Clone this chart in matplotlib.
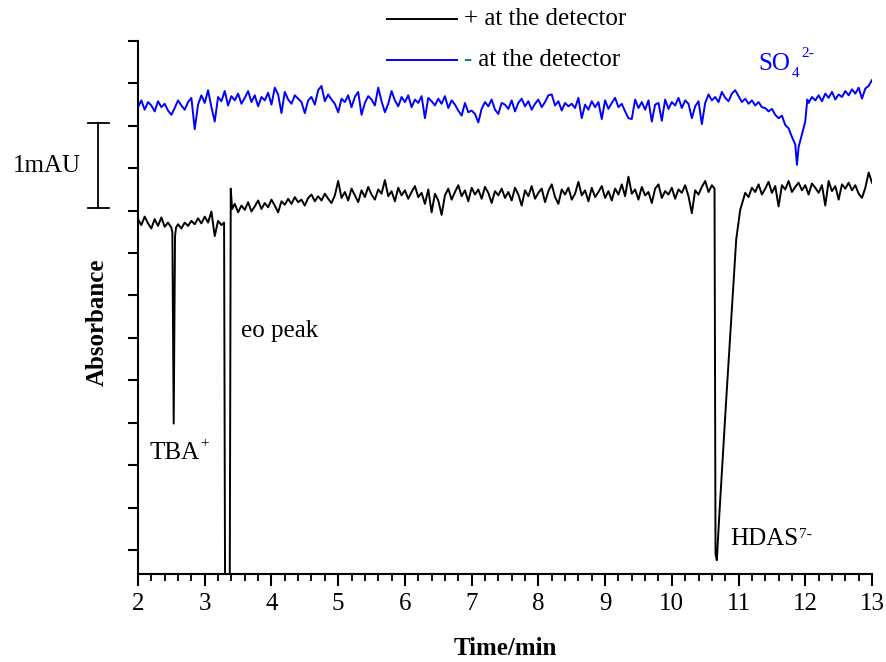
import numpy as np
import matplotlib
matplotlib.use("Agg")
import matplotlib.pyplot as plt
from matplotlib.ticker import MultipleLocator, NullFormatter
from matplotlib.offsetbox import DrawingArea, TextArea, HPacker, VPacker, AnchoredOffsetbox
from matplotlib.lines import Line2D

plt.rcParams['font.family'] = ['Liberation Serif', 'DejaVu Serif']

STEP = 0.05  # sampling step (min) of the regularly read baseline segments

# ---------------- black trace: "+ at the detector" (absorbance, mAU) ----------------
black_A_start = 2.00
black_A = [3.90, 3.83, 3.93, 3.85, 3.79, 3.90, 3.82, 3.92, 3.81, 3.86, 3.80]
black_tba_t = [2.515, 2.535, 2.555, 2.57]
black_tba_v = [3.74, 1.49, 3.70, 3.80]
black_B_start = 2.60
black_B = [3.84, 3.79, 3.86, 3.82, 3.88, 3.84, 3.91, 3.85, 3.93, 3.86, 3.99, 3.70, 3.88, 3.83]
black_eo_t = [3.29, 3.31, 3.37, 3.39, 3.41]
black_eo_v = [3.86, -2.0, -2.0, 4.26, 4.02]
black_C_start = 3.45
black_C = [4.08, 3.98, 4.06, 4.01, 4.10, 3.99, 4.05, 4.12, 4.02, 4.09,
           4.04, 4.13, 4.06, 3.98, 4.11, 4.07, 4.14, 4.08, 4.16, 4.10,
           4.13, 4.06, 4.15, 4.19, 4.11, 4.17, 4.12, 4.20, 4.14, 4.09,
           4.18, 4.35]
black_D_start = 5.05
black_D = [4.15, 4.22, 4.12, 4.26, 4.18, 4.10, 4.24, 4.16, 4.28, 4.19,
           4.13, 4.25, 4.20, 4.36, 4.17, 4.23, 4.11, 4.27, 4.18, 4.24,
           4.14, 4.22, 4.29, 4.16, 4.21, 4.08, 4.25, 3.98, 4.20, 4.12,
           3.95, 4.18, 4.26, 4.13, 4.22, 4.30, 4.17, 4.24, 4.11, 4.27,
           4.19, 4.25, 4.14, 4.28, 4.21, 4.09, 4.23, 4.18, 4.26, 4.15,
           4.22, 4.12, 4.27, 4.19, 4.06, 4.24, 4.17, 4.29, 4.14, 4.21,
           4.26, 4.10, 4.23, 4.31, 4.16, 4.08, 4.25, 4.19, 4.27, 4.13,
           4.20, 4.34, 4.18, 4.24, 4.11, 4.27, 4.16, 4.22, 4.29, 4.15,
           4.23, 4.12, 4.26, 4.19, 4.31, 4.17, 4.40, 4.20, 4.25, 4.13,
           4.28, 4.18, 4.22, 4.09, 4.26, 4.31, 4.15, 4.23, 4.19, 4.27,
           4.14, 4.25, 4.21, 4.30, 4.17, 3.97, 4.24, 4.19, 4.28, 4.35,
           4.22, 4.30]
black_hdas_t = [10.64, 10.655, 10.675, 10.71, 10.815, 10.965, 11.025, 11.10]
black_hdas_v = [4.26, -0.05, -0.12, 0.39, 1.77, 3.66, 4.01, 4.21]
black_E_start = 11.15
black_E = [4.16, 4.27, 4.22, 4.31, 4.19, 4.26, 4.34, 4.21, 4.29, 4.05,
           4.30, 4.25, 4.35, 4.22, 4.28, 4.33, 4.24, 4.30, 4.19, 4.32,
           4.27, 4.21, 4.30, 4.06, 4.35, 4.23, 4.29, 4.13, 4.31, 4.26,
           4.33, 4.24, 4.30, 4.20, 4.15, 4.27, 4.45, 4.33]

# ---------------- blue trace: "- at the detector" (absorbance, mAU) ----------------
blue_A_start = 2.00
blue_A = [5.22, 5.30, 5.19, 5.28, 5.24, 5.17, 5.29, 5.22, 5.26, 5.18,
          5.13, 5.21, 5.30, 5.24, 5.19, 5.28, 5.33, 4.96, 5.25, 5.36,
          5.27, 5.42, 5.22, 5.05, 5.34, 5.29, 5.41, 5.24, 5.35, 5.30,
          5.38, 5.26, 5.33, 5.41, 5.28, 5.36, 5.23, 5.34, 5.30, 5.39,
          5.25, 5.45, 5.37, 5.15, 5.40, 5.31, 5.26, 5.36, 5.32, 5.28,
          5.15, 5.30, 5.34, 5.25, 5.42, 5.47, 5.29, 5.37, 5.31, 5.26,
          5.16, 5.32, 5.28, 5.36, 5.22, 5.34, 5.40, 5.13, 5.27, 5.35,
          5.31, 5.24, 5.45, 5.29, 5.16, 5.26, 5.41, 5.30, 5.23, 5.34,
          5.28, 5.36, 5.22, 5.31, 5.27, 5.35, 5.09, 5.33, 5.29, 5.24,
          5.32, 5.26, 5.35, 5.21, 5.30, 5.25, 5.18, 5.12, 5.27, 5.16,
          5.18, 5.14, 5.04, 5.20, 5.28, 5.23, 5.31, 5.19, 5.14, 5.27,
          5.25, 5.20, 5.30, 5.17, 5.27, 5.32, 5.23, 5.29, 5.19, 5.26,
          5.31, 5.22, 5.28, 5.36, 5.37, 5.24, 5.29, 5.18, 5.27, 5.23,
          5.26, 5.21, 5.33, 5.09, 5.25, 5.19, 5.29, 5.22, 5.28, 5.08,
          5.30, 5.20, 5.27, 5.33, 5.22, 5.26, 5.17, 5.09, 5.08, 5.31,
          5.21, 5.28, 5.19, 5.30, 5.05, 5.25, 5.27, 5.06, 5.31, 5.20,
          5.28, 5.24, 5.33, 5.21, 5.30, 5.26, 5.09, 5.23, 5.29, 5.02,
          5.27, 5.37, 5.30, 5.34, 5.28, 5.40, 5.33, 5.29, 5.38, 5.42,
          5.35, 5.28, 5.32, 5.26, 5.30, 5.24, 5.28, 5.22]
blue_B_start = 11.40
blue_B = [5.21, 5.17, 5.20, 5.13, 5.09, 5.12, 5.01, 4.97, 4.87]
blue_so4_t = [11.85, 11.875, 11.90, 11.95, 12.00, 12.03]
blue_so4_v = [4.78, 4.54, 4.75, 4.90, 5.05, 5.31]
blue_C_start = 12.05
blue_C = [5.27, 5.34, 5.30, 5.36, 5.29, 5.38, 5.33, 5.40, 5.31, 5.37,
          5.34, 5.41, 5.36, 5.43, 5.38, 5.45, 5.32, 5.44, 5.47, 5.54]

# scale bar (mAU)
scale_bar_bottom = 4.03
scale_bar_height = 1.0


def seg(start, values):
    return start + STEP * np.arange(len(values))


t_black = np.concatenate([seg(black_A_start, black_A), black_tba_t,
                          seg(black_B_start, black_B), black_eo_t,
                          seg(black_C_start, black_C), seg(black_D_start, black_D),
                          black_hdas_t, seg(black_E_start, black_E)])
a_black = np.concatenate([black_A, black_tba_v, black_B, black_eo_v, black_C,
                          black_D, black_hdas_v, black_E])
t_blue = np.concatenate([seg(blue_A_start, blue_A), seg(blue_B_start, blue_B),
                         blue_so4_t, seg(blue_C_start, blue_C)])
a_blue = np.concatenate([blue_A, blue_B, blue_so4_v, blue_C])

W, H = 886, 662
fig = plt.figure(figsize=(W / 100, H / 100), dpi=100)
ax = fig.add_axes([138 / W, 1 - 574 / H, 734 / W, 533 / H])

ax.plot(t_black, a_black, color='black', lw=1.4)
ax.plot(t_blue, a_blue, color='#0000FF', lw=1.4)

ax.set_xlim(2, 13)
ax.set_ylim(-0.283, 6.0)
for s in ['top', 'right']:
    ax.spines[s].set_visible(False)
for s in ['left', 'bottom']:
    ax.spines[s].set_linewidth(1.5)

ax.xaxis.set_major_locator(MultipleLocator(1))
ax.xaxis.set_minor_locator(MultipleLocator(0.2))
ax.yaxis.set_major_locator(MultipleLocator(0.5))
ax.yaxis.set_major_formatter(NullFormatter())
ax.tick_params(axis='x', which='major', direction='out', length=8.5, width=1.5,
               labelsize=18, pad=5)
ax.tick_params(axis='x', which='minor', direction='out', length=5, width=1.3)
ax.tick_params(axis='y', which='major', direction='out', length=7, width=1.5)

ax.set_xlabel('Time/min', fontsize=18, fontweight='bold')
ax.xaxis.set_label_coords(0.5, -0.118)
ax.set_ylabel('Absorbance', fontsize=18, fontweight='bold')
ax.yaxis.set_label_coords(-0.04, 0.473)


# peak labels with super/subscripts
def label(x, y, main, parts, color='black'):
    t = ax.text(x, y, main, fontsize=18, ha='left', va='baseline', color=color)
    for s, dx, dy in parts:
        ax.annotate(s, xy=(1, y), xycoords=(t, 'data'), xytext=(dx, dy),
                    textcoords='offset points', ha='left', va='baseline',
                    fontsize=11, color=color)


label(2.165, 1.073, 'TBA', [('+', 0.5, 8.7)])
label(3.54, 2.51, 'eo peak', [])
label(10.875, 0.059, 'HDAS', [('7-', 0.5, 5.0)])
label(11.29, 5.66, 'SO', [('4', 1.2, -5.0), ('2-', 8.0, 9.3)], color='#0000FF')

# 1 mAU scale bar
trans = ax.get_yaxis_transform()
bx, cap = -0.0544, 0.0143
ax.plot([bx, bx], [scale_bar_bottom, scale_bar_bottom + scale_bar_height],
        color='black', lw=1.3, transform=trans, clip_on=False)
for yy in [scale_bar_bottom, scale_bar_bottom + scale_bar_height]:
    ax.plot([bx - cap, bx + cap], [yy, yy], color='black', lw=1.3,
            transform=trans, clip_on=False)
ax.text(-0.170, scale_bar_bottom + scale_bar_height / 2, '1mAU', fontsize=18,
        ha='left', va='center', transform=trans)

# legend
tp = dict(fontsize=18, family='Liberation Serif')


def sample(color):
    da = DrawingArea(50, 10, 0, 0)
    da.add_artist(Line2D([0, 50], [5, 5], color=color, lw=1.4))
    return da


row1 = HPacker(children=[sample('black'), TextArea('+ at the detector', textprops=tp)],
               align='center', pad=0, sep=5)
txt2 = HPacker(children=[TextArea('-', textprops=dict(tp, color='#008080')),
                         TextArea(' at the detector', textprops=tp)],
               align='baseline', pad=0, sep=0)
row2 = HPacker(children=[sample('#0000FF'), txt2], align='center', pad=0, sep=5)
legend = VPacker(children=[row1, row2], align='left', pad=0, sep=14)
ab = AnchoredOffsetbox(loc='center', child=legend, frameon=False, pad=0, borderpad=0,
                       bbox_to_anchor=(506.5 / W, 1 - 39.5 / H),
                       bbox_transform=fig.transFigure)
fig.add_artist(ab)

fig.savefig('out.png', dpi=100)
